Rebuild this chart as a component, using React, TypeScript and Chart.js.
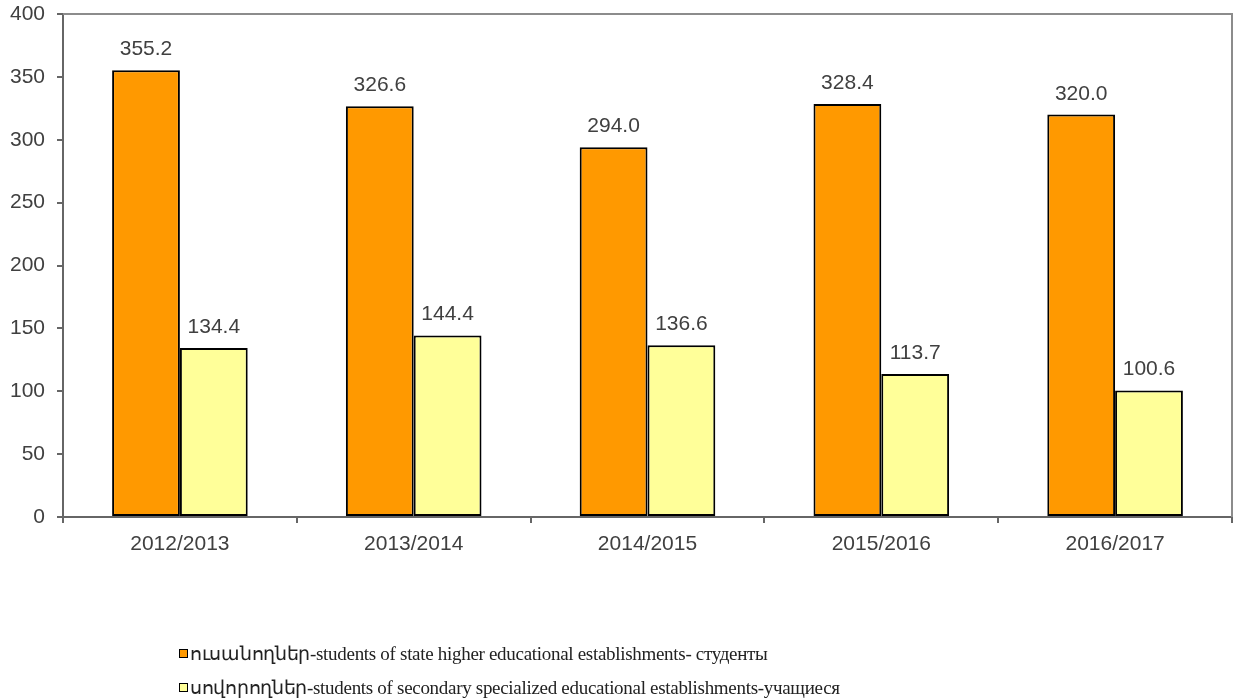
import React, { useEffect, useRef } from "react";
import { Chart, registerables } from "chart.js";

Chart.register(...registerables);

const categories = ["2012/2013", "2013/2014", "2014/2015", "2015/2016", "2016/2017"];
const higherStudents = [355.2, 326.6, 294.0, 328.4, 320.0];
const secondaryStudents = [134.4, 144.4, 136.6, 113.7, 100.6];
const yTicks = [0, 50, 100, 150, 200, 250, 300, 350, 400];
const seriesLabels = [
  "ուսանողներ-students of state higher educational establishments- студенты",
  "սովորողներ-students of secondary specialized educational establishments-учащиеся",
];
const seriesColors = ["#FF9900", "#FFFF99"];

const FONT = "'Liberation Sans', Arial, sans-serif";

const frameAndLabels = {
  id: "frameAndLabels",
  afterDatasetsDraw(chart: any) {
    const { ctx, chartArea } = chart;
    ctx.save();
    ctx.strokeStyle = "#8c8c8c";
    ctx.lineWidth = 2;
    ctx.beginPath();
    ctx.moveTo(chartArea.left, chartArea.top);
    ctx.lineTo(chartArea.right, chartArea.top);
    ctx.lineTo(chartArea.right, chartArea.bottom);
    ctx.stroke();
    ctx.font = "21px " + FONT;
    ctx.fillStyle = "#404040";
    ctx.textAlign = "center";
    ctx.textBaseline = "alphabetic";
    chart.data.datasets.forEach((ds: any, i: number) => {
      const meta = chart.getDatasetMeta(i);
      meta.data.forEach((bar: any, j: number) => {
        ctx.fillText(Number(ds.data[j]).toFixed(1), bar.x, bar.y - 15);
      });
    });
    ctx.restore();
  },
};

export default function App() {
  const ref = useRef<HTMLCanvasElement>(null);
  useEffect(() => {
    if (!ref.current) return;
    const chart = new Chart(ref.current, {
      type: "bar",
      data: {
        labels: categories,
        datasets: [
          {
            label: seriesLabels[0],
            data: higherStudents,
            backgroundColor: seriesColors[0],
            borderColor: "#000",
            borderWidth: 2,
            borderSkipped: false,
            categoryPercentage: 0.58,
            barPercentage: 1,
          },
          {
            label: seriesLabels[1],
            data: secondaryStudents,
            backgroundColor: seriesColors[1],
            borderColor: "#000",
            borderWidth: 2,
            borderSkipped: false,
            categoryPercentage: 0.58,
            barPercentage: 1,
          },
        ],
      },
      options: {
        animation: false,
        responsive: false,
        layout: { padding: { left: 0, right: 3, top: 14, bottom: 133 } },
        plugins: { legend: { display: false }, tooltip: { enabled: false } },
        scales: {
          x: {
            grid: {
              offset: true,
              drawOnChartArea: false,
              drawTicks: true,
              tickLength: 6,
              color: "#666",
              lineWidth: 2,
            },
            border: { color: "#666", width: 2 },
            ticks: {
              color: "#404040",
              font: { family: FONT, size: 21 },
              padding: 9,
            },
            afterFit: (s: any) => {
              s.height = 50;
              s.paddingLeft = 0;
              s.paddingRight = 0;
            },
          },
          y: {
            min: 0,
            max: 400,
            afterBuildTicks: (s: any) => {
              s.ticks = yTicks.map((v) => ({ value: v }));
            },
            grid: {
              drawOnChartArea: false,
              drawTicks: true,
              tickLength: 6,
              color: "#666",
              lineWidth: 2,
            },
            border: { color: "#666", width: 2 },
            ticks: {
              color: "#404040",
              font: { family: FONT, size: 21 },
              padding: 12,
            },
            afterFit: (s: any) => {
              s.width = 63;
              s.paddingTop = 0;
              s.paddingBottom = 0;
            },
          },
        },
      },
      plugins: [frameAndLabels],
    });
    return () => chart.destroy();
  }, []);

  return (
    <div style={{ position: "fixed", left: 0, top: 0, width: 1235, height: 700, background: "#fff" }}>
      <canvas ref={ref} width={1235} height={700} style={{ width: 1235, height: 700 }} />
      {seriesLabels.map((lab, i) => (
        <div
          key={i}
          style={{
            position: "absolute",
            left: 179,
            top: 642 + i * 34,
            height: 22,
            display: "flex",
            alignItems: "center",
            fontFamily: "'Liberation Serif', 'Times New Roman', serif",
            fontSize: 19,
            letterSpacing: -0.3,
            color: "#222",
            whiteSpace: "nowrap",
          }}
        >
          <span
            style={{
              display: "inline-block",
              width: 7,
              height: 7,
              background: seriesColors[i],
              border: "1.5px solid #000",
              marginRight: 2,
            }}
          />
          {lab}
        </div>
      ))}
    </div>
  );
}
